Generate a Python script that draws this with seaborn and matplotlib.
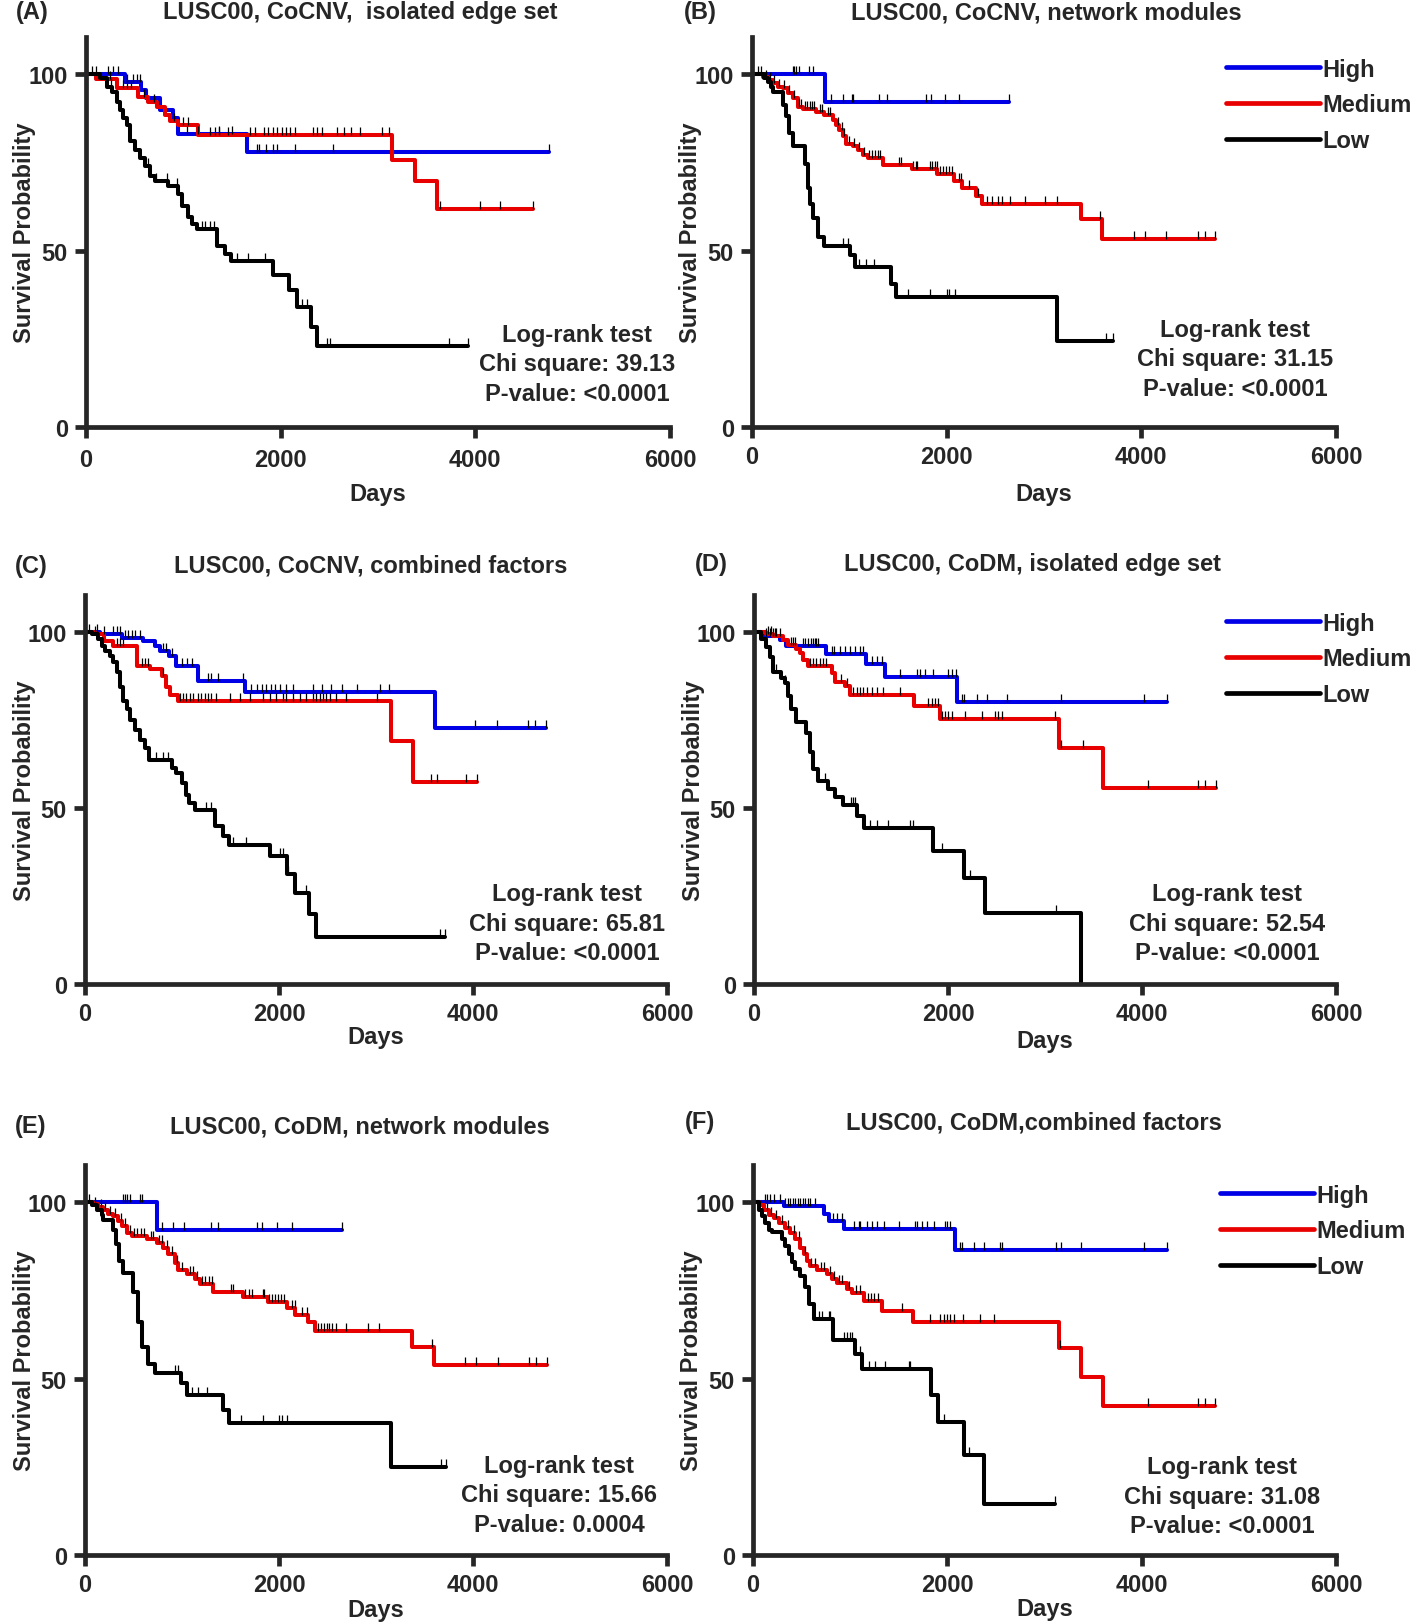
import numpy as np
import pandas as pd
import matplotlib
matplotlib.use("Agg")
import matplotlib.pyplot as plt
from matplotlib.path import Path
import seaborn as sns

# ---- data: drop times (days), survival after each drop (%), censored times ----
a_high_t = [400, 565, 620, 760, 897, 949, 1651]
a_high_s = [97.8, 95.5, 93.2, 89.9, 87.5, 83.1, 78.0]
a_high_c = [229, 281, 332, 418, 486, 520, 555, 1040, 1150, 1370, 1500, 1757, 1780, 1849, 1917, 1963, 2147, 2537, 4761]
a_med_t = [100, 315, 538, 640, 733, 812, 863, 949, 1154, 3147, 3385, 3606]
a_med_s = [98.5, 96.0, 93.5, 92.2, 90.8, 88.5, 86.6, 85.5, 82.8, 75.7, 69.6, 61.8]
a_med_c = [250, 380, 420, 460, 600, 700, 900, 1000, 1050, 1275, 1321, 1367, 1459, 1688, 1734, 1826, 1872, 1917,
           1963, 2009, 2055, 2101, 2147, 2330, 2376, 2422, 2583, 2651, 2720, 2812, 3041, 3110, 3638, 4050, 4257, 4592]
a_low_t = [144, 212, 264, 315, 349, 384, 418, 452, 503, 555, 606, 658, 709, 846, 949, 983, 1051, 1086, 1137,
           1343, 1428, 1486, 1918, 2089, 2165, 2312, 2377]
a_low_s = [98.8, 96.4, 95.0, 92.2, 89.9, 87.5, 85.6, 81.0, 78.6, 76.3, 73.9, 71.1, 69.7, 68.3, 66.0, 62.7, 59.4,
           57.5, 56.1, 51.4, 49.1, 47.0, 43.0, 38.7, 34.0, 28.4, 23.0]
a_low_c = [60, 100, 260, 452, 640, 720, 830, 930, 1188, 1222, 1274, 1320, 1548, 1668, 1839, 2216, 2267, 2473,
           2507, 3729, 3927]

b_high_t = [750]
b_high_s = [92.2]
b_high_c = [417, 435, 452, 486, 589, 623, 811, 930, 1026, 1040, 1306, 1392, 1785, 1837, 1984, 2127, 2640]
b_med_t = [110, 161, 212, 264, 315, 366, 418, 469, 520, 657, 743, 828, 863, 897, 931, 966, 1034, 1086, 1137,
           1189, 1341, 1648, 1905, 2076, 2161, 2298, 2367, 3383, 3594]
b_med_s = [99.2, 98.3, 97.4, 96.4, 96.0, 94.6, 93.2, 90.8, 90.2, 89.2, 88.3, 87.1, 85.6, 84.2, 82.4, 80.2, 79.5,
           78.6, 77.2, 76.3, 74.1, 73.0, 71.6, 69.7, 67.8, 65.5, 63.3, 58.8, 53.3]
b_med_c = [180, 230, 280, 330, 380, 430, 480, 500, 540, 560, 600, 620, 640, 700, 720, 780, 800, 880, 920, 950,
           1000, 1050, 1100, 1150, 1200, 1230, 1260, 1290, 1320, 1513, 1530, 1650, 1680, 1700, 1830, 1850, 1880,
           1900, 1930, 1960, 1990, 2020, 2050, 2130, 2150, 2230, 2320, 2410, 2466, 2523, 2570, 2654, 2805, 3007,
           3134, 3580, 3923, 4040, 4252, 4580, 4651, 4754]
b_low_t = [127, 161, 195, 212, 315, 349, 376, 418, 548, 572, 595, 623, 674, 743, 1006, 1060, 1426, 1484, 3138]
b_low_s = [98.8, 97.8, 96.4, 95.0, 91.3, 88.0, 83.3, 79.5, 74.4, 67.8, 63.1, 59.1, 53.9, 51.4, 48.6, 45.3,
           40.6, 36.9, 24.5]
b_low_c = [60, 90, 140, 937, 982, 1101, 1170, 1255, 1604, 1830, 2008, 2025, 2083, 3632, 3711]

c_high_t = [154, 377, 600, 720, 772, 868, 943, 1166, 1646, 3610]
c_high_s = [99.3, 98.4, 97.3, 96.0, 94.6, 93.2, 90.4, 86.2, 83.0, 72.6]
c_high_c = [120, 200, 291, 326, 360, 412, 446, 480, 515, 566, 800, 830, 900, 1000, 1050, 1100, 1269, 1303,
            1372, 1629, 1709, 1777, 1823, 1869, 1915, 1960, 2006, 2075, 2144, 2350, 2441, 2533, 2648, 2808,
            3037, 3129, 4022, 4251, 4572, 4641, 4755]
c_med_t = [103, 200, 292, 532, 669, 789, 833, 875, 960, 3152, 3381]
c_med_s = [99.3, 97.5, 96.0, 90.4, 89.5, 87.6, 84.3, 82.0, 80.5, 69.0, 57.3]
c_med_c = [326, 360, 395, 583, 617, 652, 806, 978, 1012, 1046, 1080, 1115, 1166, 1200, 1235, 1269, 1303, 1355,
           1492, 1595, 1698, 1835, 1904, 1972, 2041, 2075, 2144, 2212, 2281, 2350, 2384, 2418, 2452, 2487, 2521,
           2590, 2693, 3014, 3564, 3633, 3931, 4045]
c_low_t = [69, 137, 172, 206, 257, 292, 326, 360, 395, 429, 463, 515, 566, 617, 659, 892, 943, 995, 1046,
           1074, 1132, 1338, 1423, 1485, 1910, 2082, 2161, 2308, 2377]
c_low_s = [99.3, 97.9, 96.0, 94.6, 93.2, 91.4, 88.5, 84.3, 80.5, 78.2, 74.9, 72.1, 69.3, 66.9, 63.6, 61.3,
           59.9, 57.0, 53.8, 51.4, 49.5, 44.8, 42.0, 39.6, 36.4, 31.2, 25.8, 19.9, 13.3]
c_low_c = [40, 100, 737, 806, 860, 1252, 1300, 1526, 1664, 2006, 2041, 2092, 2281, 3655, 3710]

d_high_t = [93, 265, 334, 747, 1150, 1350, 2090]
d_high_s = [98.8, 97.7, 96.1, 93.7, 90.9, 87.3, 80.0]
d_high_c = [127, 162, 196, 213, 506, 530, 557, 585, 609, 627, 644, 661, 799, 826, 885, 937, 988, 1040, 1091,
            1126, 1212, 1264, 1315, 1505, 1677, 1711, 1763, 1849, 2004, 2038, 2080, 2142, 2169, 2297, 2400,
            2606, 3164, 4024, 4255]
d_med_t = [127, 196, 300, 351, 437, 472, 506, 558, 799, 833, 937, 988, 1649, 1918, 3141, 3601]
d_med_s = [99.5, 98.8, 97.7, 96.2, 95.3, 93.9, 92.0, 90.2, 88.3, 85.7, 84.7, 82.2, 78.9, 75.3, 67.0, 55.7]
d_med_c = [145, 180, 230, 265, 380, 400, 420, 575, 609, 644, 678, 713, 747, 902, 954, 1022, 1057, 1091, 1126,
           1160, 1212, 1264, 1333, 1505, 1797, 1831, 1866, 1893, 1935, 1970, 2004, 2038, 2176, 2348, 2486,
           2520, 2555, 3100, 3164, 3390, 4057, 4575, 4645, 4763]
d_low_t = [76, 127, 162, 196, 282, 317, 351, 386, 437, 541, 575, 609, 661, 764, 833, 919, 1057, 1136, 1848,
           2167, 2379, 3376]
d_low_s = [98.1, 95.8, 93.0, 88.7, 86.9, 85.5, 81.7, 78.0, 74.4, 71.4, 65.8, 61.1, 57.8, 55.4, 53.1, 50.9,
           47.7, 44.2, 37.9, 30.1, 20.2, 0.0]
d_low_c = [230, 317, 730, 840, 1005, 1022, 1040, 1195, 1264, 1384, 1608, 1642, 1935, 2224, 3117]

e_high_t = [739]
e_high_s = [92.2]
e_high_c = [395, 412, 430, 464, 567, 584, 790, 911, 1020, 1295, 1374, 1776, 1821, 1983, 2130, 2646]
e_med_t = [86, 137, 189, 241, 292, 344, 378, 430, 481, 636, 739, 807, 859, 928, 962, 1048, 1134, 1185, 1323,
           1632, 1890, 2079, 2165, 2302, 2371, 3367, 3596]
e_med_s = [99.5, 98.6, 97.8, 96.7, 96.0, 94.6, 93.2, 91.3, 90.3, 89.4, 88.3, 87.1, 85.2, 82.8, 80.8, 79.5,
           78.1, 76.7, 74.4, 73.2, 71.6, 69.9, 68.0, 65.9, 63.6, 59.0, 53.7]
e_med_c = [160, 210, 260, 310, 370, 410, 460, 500, 540, 580, 610, 680, 700, 760, 790, 850, 900, 950, 1000,
           1080, 1110, 1150, 1210, 1240, 1280, 1310, 1500, 1530, 1650, 1690, 1720, 1830, 1850, 1900, 1930,
           1960, 1990, 2020, 2050, 2130, 2160, 2240, 2290, 2405, 2430, 2460, 2490, 2520, 2550, 2590, 2690,
           2920, 3030, 3573, 3917, 4031, 4260, 4581, 4650, 4764]
e_low_t = [69, 120, 172, 189, 292, 320, 354, 395, 498, 550, 584, 653, 722, 986, 1048, 1426, 1488, 3152]
e_low_s = [99.2, 97.8, 96.4, 95.0, 92.2, 88.0, 83.3, 80.0, 74.4, 66.0, 58.9, 54.2, 51.7, 48.6, 45.3, 41.1,
           37.3, 24.9]
e_low_c = [40, 100, 928, 962, 1100, 1168, 1254, 1605, 1831, 2003, 2027, 2079, 3665, 3720]

f_high_t = [316, 734, 779, 933, 2082]
f_high_s = [99.0, 96.7, 94.6, 92.5, 86.3]
f_high_c = [127, 144, 178, 213, 281, 333, 360, 385, 410, 436, 460, 487, 510, 540, 565, 590, 641, 823, 864,
            916, 1036, 1087, 1104, 1173, 1225, 1276, 1345, 1499, 1670, 1688, 1739, 1790, 1859, 1979, 1996,
            2031, 2133, 2151, 2271, 2380, 2545, 2562, 3122, 3169, 3380, 4023, 4258]
f_med_t = [58, 110, 161, 213, 264, 333, 384, 436, 487, 521, 556, 590, 659, 761, 813, 864, 967, 1019, 1139,
           1327, 1643, 3146, 3380, 3601]
f_med_s = [99.2, 97.8, 96.4, 95.5, 94.1, 92.7, 91.3, 89.4, 87.1, 85.2, 83.3, 81.9, 80.8, 79.5, 78.1, 77.2,
           75.3, 74.2, 71.9, 69.2, 66.1, 58.7, 50.3, 42.1]
f_med_c = [140, 190, 240, 300, 360, 420, 470, 540, 600, 640, 700, 730, 790, 830, 890, 920, 990, 1060, 1100,
           1180, 1210, 1250, 1290, 1530, 1825, 1928, 1962, 1997, 2031, 2072, 2161, 2339, 2477, 3160, 4061,
           4577, 4648, 4756]
f_low_t = [58, 93, 127, 161, 196, 298, 333, 367, 401, 436, 487, 539, 573, 624, 823, 1053, 1122, 1835, 1900,
           2168, 2374]
f_low_s = [97.8, 96.0, 94.1, 92.2, 91.5, 89.4, 87.5, 85.2, 83.0, 81.1, 79.1, 75.8, 71.1, 66.9, 60.8, 57.0,
           52.8, 45.3, 37.8, 28.2, 14.4]
f_low_c = [676, 710, 779, 796, 933, 967, 1002, 1019, 1104, 1190, 1259, 1362, 1602, 1619, 1962, 2219, 3113]

letters = ["(A)", "(B)", "(C)", "(D)", "(E)", "(F)"]
titles = ["LUSC00, CoCNV,  isolated edge set", "LUSC00, CoCNV, network modules",
          "LUSC00, CoCNV, combined factors", "LUSC00, CoDM, isolated edge set",
          "LUSC00, CoDM, network modules", "LUSC00, CoDM,combined factors"]
chi_square = ["39.13", "31.15", "65.81", "52.54", "15.66", "31.08"]
p_values = ["<0.0001", "<0.0001", "<0.0001", "<0.0001", "0.0004", "<0.0001"]
groups = ["High", "Medium", "Low"]
colors = {"High": "#0000e6", "Medium": "#e80000", "Low": "#000000"}

curves = [
    [(a_high_t, a_high_s, a_high_c), (a_med_t, a_med_s, a_med_c), (a_low_t, a_low_s, a_low_c)],
    [(b_high_t, b_high_s, b_high_c), (b_med_t, b_med_s, b_med_c), (b_low_t, b_low_s, b_low_c)],
    [(c_high_t, c_high_s, c_high_c), (c_med_t, c_med_s, c_med_c), (c_low_t, c_low_s, c_low_c)],
    [(d_high_t, d_high_s, d_high_c), (d_med_t, d_med_s, d_med_c), (d_low_t, d_low_s, d_low_c)],
    [(e_high_t, e_high_s, e_high_c), (e_med_t, e_med_s, e_med_c), (e_low_t, e_low_s, e_low_c)],
    [(f_high_t, f_high_s, f_high_c), (f_med_t, f_med_s, f_med_c), (f_low_t, f_low_s, f_low_c)],
]

# ---- layout (pixels of the 1416x1624 figure) ----
W, H = 1416, 1624
axes_px = [(86, 428, 584, 38), (752, 428, 584, 38), (85, 985, 582, 596),
           (754, 985, 582, 596), (85, 1556, 582, 1166), (753, 1556, 583, 1166)]
letter_px = [(32, 13), (700, 13), (31, 566), (711, 564), (31, 1127), (700, 1123)]
title_px = [(360, 13), (1046, 13), (371, 566), (1032, 564), (360, 1127), (1034, 1123)]
stat_pos = [(5046, 17.9), (4964, 19.3), (4969, 17.3), (4876, 17.3), (4887, 17.0), (4825, 16.7)]
xlabel_y = [-0.141, -0.141, -0.105, -0.116, -0.110, -0.108]
xtick_pad = [7, 5, 5, 5, 5, 5]
legend_px = {1: (1226, 106), 3: (1226, 660), 5: (1220, 1232)}

sns.set_style("ticks")
plt.rcParams["font.family"] = ["Liberation Sans", "DejaVu Sans"]
plt.rcParams["font.weight"] = "bold"
plt.rcParams["axes.labelweight"] = "bold"
FS = 17

tick_mark = Path([(0, 0), (0, 1)])


def step_frame(t, s, c):
    end = max(t[-1], max(c))
    return pd.DataFrame({"day": [0] + list(t) + [end], "surv": [100.0] + list(s) + [s[-1]]})


def censor_frame(t, s, c):
    c = np.asarray(c, dtype=float)
    idx = np.searchsorted(t, c, side="right") - 1
    full = np.concatenate([[100.0], s])
    return pd.DataFrame({"day": c, "surv": full[idx + 1]})


fig = plt.figure(figsize=(W / 100, H / 100), dpi=100)

for i in range(6):
    x0, yb, w, top = axes_px[i]
    ax = fig.add_axes([x0 / W, 1 - yb / H, w / W, (yb - top) / H])
    for g, (t, s, c) in zip(groups, curves[i]):
        sns.lineplot(data=step_frame(t, s, c), x="day", y="surv", drawstyle="steps-post",
                     estimator=None, sort=False, color=colors[g], lw=2.9, label=g, ax=ax)
        cf = censor_frame(t, s, c)
        ax.plot(cf["day"], cf["surv"], ls="none", marker=tick_mark, ms=12,
                mec="black", mew=0.9, zorder=4)

    ax.set_xlim(0, 6000)
    ax.set_ylim(0, 110.5)
    ax.set_xticks([0, 2000, 4000, 6000])
    ax.set_yticks([0, 50, 100])
    sns.despine(ax=ax)
    for sp in ["left", "bottom"]:
        ax.spines[sp].set_linewidth(3.4)
    ax.tick_params(length=8, width=3.4, labelsize=FS, pad=5)
    ax.tick_params(axis="x", pad=xtick_pad[i])
    ax.set_xlabel("Days", fontsize=FS, fontweight="bold")
    ax.set_ylabel("Survival Probability", fontsize=FS, fontweight="bold")
    ax.xaxis.set_label_coords(0.5, xlabel_y[i])
    ax.yaxis.set_label_coords(-0.085, 0.5)

    ax.text(stat_pos[i][0], stat_pos[i][1],
            "Log-rank test\nChi square: %s\nP-value: %s" % (chi_square[i], p_values[i]),
            ha="center", va="center", fontsize=FS, fontweight="bold", linespacing=1.36)

    if i in legend_px:
        lx, ly = legend_px[i]
        leg = ax.legend(loc="center left", bbox_to_anchor=(lx / W, 1 - ly / H), bbox_transform=fig.transFigure,
                        frameon=False, fontsize=FS, handlelength=4.0, handletextpad=0.1, labelspacing=0.55,
                        borderpad=0, borderaxespad=0)
        for ln in leg.get_lines():
            ln.set_linewidth(3.4)
    else:
        ax.get_legend().remove()

    fig.text(letter_px[i][0] / W, 1 - letter_px[i][1] / H, letters[i], ha="center", va="center",
             fontsize=FS, fontweight="bold")
    fig.text(title_px[i][0] / W, 1 - title_px[i][1] / H, titles[i], ha="center", va="center",
             fontsize=FS, fontweight="bold")

fig.savefig("out.png", dpi=100)
